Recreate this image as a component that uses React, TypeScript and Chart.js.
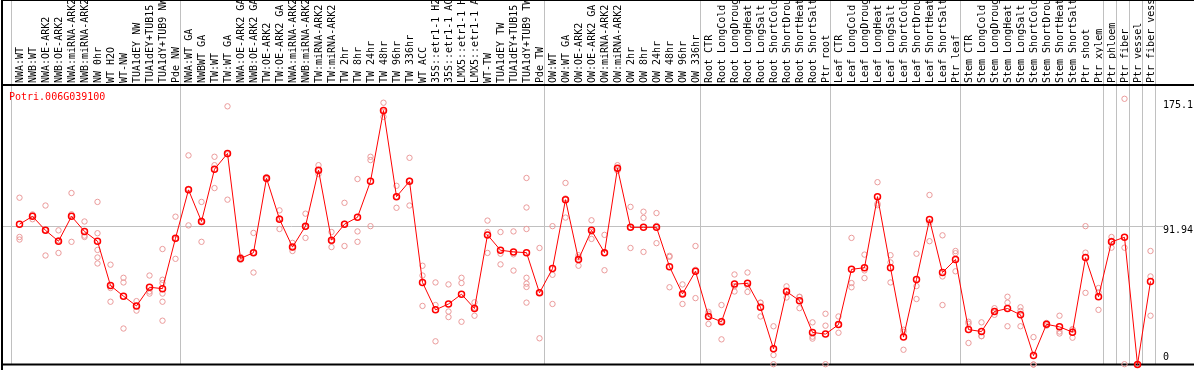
import { useEffect, useRef } from "react";
import { Chart, registerables } from "chart.js";

Chart.register(...registerables);

const geneId = "Potri.006G039100";

const categories = [
  "NWA:WT", "NWB:WT", "NWA:OE-ARK2", "NWB:OE-ARK2", "NWA:miRNA-ARK2", "NWB:miRNA-ARK2",
  "NW 0hr", "WT H2O", "WT-NW", "TUA1dEY NW", "TUA1dEY+TUB15 NW", "TUA1dY+TUB9 NW", "Pde NW",
  "NWA:WT GA", "NWBWT GA", "TW:WT", "TW:WT GA", "NWA:OE-ARK2 GA", "NWB:OE-ARK2 GA",
  "TW:OE-ARK2", "TW:OE-ARK2 GA", "NWA:miRNA-ARK2", "NWB:miRNA-ARK2", "TW:miRNA-ARK2",
  "TW:miRNA-ARK2", "TW 2hr", "TW 8hr", "TW 24hr", "TW 48hr", "TW 96hr", "TW 336hr",
  "WT ACC", "35S::etr1-1 H2O", "35S::etr1-1 ACC", "LMX5::etr1-1 H2O", "LMX5::etr1-1 ACC",
  "WT-TW", "TUA1dEY TW", "TUA1dEY+TUB15 TW", "TUA1dY+TUB9 TW", "Pde TW",
  "OW:WT", "OW:WT GA", "OW:OE-ARK2", "OW:OE-ARK2 GA", "OW:miRNA-ARK2", "OW:miRNA-ARK2",
  "OW 2hr", "OW 8hr", "OW 24hr", "OW 48hr", "OW 96hr", "OW 336hr",
  "Root CTR", "Root LongCold", "Root LongDrought", "Root LongHeat", "Root LongSalt",
  "Root ShortCold", "Root ShortDrought", "Root ShortHeat", "Root ShortSalt", "Ptr root",
  "Leaf CTR", "Leaf LongCold", "Leaf LongDrought", "Leaf LongHeat", "Leaf LongSalt",
  "Leaf ShortCold", "Leaf ShortDrought", "Leaf ShortHeat", "Leaf ShortSalt", "Ptr leaf",
  "Stem CTR", "Stem LongCold", "Stem LongDrought", "Stem LongHeat", "Stem LongSalt",
  "Stem ShortCold", "Stem ShortDrought", "Stem ShortHeat", "Stem ShortSalt", "Ptr shoot",
  "Ptr xylem", "Ptr phloem", "Ptr fiber", "Ptr vessel", "Ptr fiber vessel",
];

const means = [
  93.2, 98.4, 89.1, 81.9, 98.4, 88.4, 81.9, 52.4, 45.4, 38.9, 51.3, 50.4, 83.9,
  116.0, 95.0, 129.7, 140.2, 70.4, 74.3, 123.7, 96.5, 78.0, 91.9, 129.1, 82.6, 93.2,
  97.8, 121.7, 168.7, 111.5, 121.7, 54.5, 36.3, 40.2, 46.7, 37.2, 86.1, 75.9, 74.8,
  74.3, 47.6,
  63.7, 109.5, 69.8, 89.1, 74.3, 130.4, 91.1, 91.1, 91.1, 65.0, 46.9, 61.9,
  31.9, 28.4, 53.4, 53.9, 38.0, 10.4, 48.5, 42.4, 21.3, 20.2,
  26.5, 63.2, 64.3, 111.5, 64.3, 18.2, 56.5, 96.3, 61.1, 69.8,
  23.2, 21.9, 35.2, 37.2, 33.0, 5.9, 26.7, 25.0, 21.5, 71.0, 45.0,
  81.5, 84.5, 0, 55.2,
];

const replicates: number[][] = [
  [110.8, 84.7, 83.0], [99.7, 96.5, 98.9], [105.6, 72.4, 89.3], [89.1, 74.1, 82.5],
  [113.9, 81.5, 99.8], [95.0, 85.6, 84.7], [108.0, 87.2, 76.1, 71.1, 67.1],
  [66.3, 50.8, 41.7], [57.6, 54.5, 23.9], [42.1, 35.8, 38.9], [59.1, 47.1, 48.5],
  [76.7, 56.3, 54.1, 47.1, 41.7, 29.1], [98.2, 70.2, 83.3],
  [138.9, 92.4, 116.7], [108.0, 81.5, 95.5], [138.0, 132.4, 117.2], [171.5, 109.5, 139.6],
  [71.5, 69.5, 70.2], [87.4, 61.1, 74.4], [124.5, 123.0, 123.6], [102.4, 90.0, 97.1],
  [80.8, 75.4, 77.8], [100.2, 84.1, 91.4], [132.4, 126.5, 128.4], [88.0, 78.0, 81.8],
  [107.4, 78.7, 93.5], [123.2, 88.4, 81.5], [138.0, 135.8, 91.9], [173.9, 164.5, 167.7],
  [118.7, 104.1, 111.6], [137.3, 105.6, 122.2], [65.6, 59.1, 38.9], [54.5, 39.5, 15.4],
  [53.2, 35.2, 31.5], [57.6, 54.1, 28.4], [41.3, 32.4, 37.8], [95.6, 88.0, 74.1],
  [88.0, 73.6, 66.5], [88.4, 73.2, 62.4], [123.9, 104.3, 90.0, 57.6, 53.7, 51.5, 41.1],
  [77.4, 17.4, 48.0],
  [91.9, 59.6, 40.2], [120.6, 97.6, 110.3], [72.6, 65.6, 71.2], [95.8, 83.4, 88.1],
  [86.1, 62.6, 74.2], [132.4, 128.7, 130.1], [104.7, 77.4, 91.2], [101.5, 97.4, 74.8],
  [100.6, 80.6, 92.1], [71.5, 51.3, 72.2], [53.2, 40.2, 47.3], [78.7, 44.1, 62.9],
  [35.0, 26.9, 33.8], [39.5, 16.7, 29.0], [59.8, 48.5, 52.0], [61.1, 48.2, 52.4],
  [41.1, 31.9, 41.0], [25.4, 6.3, 0.2], [51.9, 44.5, 49.1], [45.0, 37.4, 44.8],
  [28.0, 18.5, 17.2], [33.7, 25.8, 0.2],
  [31.9, 21.1, 26.5], [84.1, 54.1, 51.3], [73.0, 57.4, 62.5], [121.1, 106.9, 105.8],
  [72.6, 67.8, 54.5], [21.7, 9.8, 23.1], [73.6, 52.1, 43.5], [112.6, 81.9, 94.4],
  [85.8, 58.5, 39.5], [75.4, 73.9, 61.9],
  [28.4, 27.1, 14.3], [28.0, 18.9, 18.8], [37.4, 33.0, 35.2], [45.0, 41.1, 25.4],
  [38.0, 25.4, 35.6], [18.2, 0, 0], [27.6, 25.8, 26.7], [32.4, 20.6, 21.9],
  [23.2, 17.8, 23.5], [91.9, 74.3, 47.6], [50.8, 36.3, 47.9],
  [84.7, 77.6, 82.2], [176.5, 77.6, 0.2], [0, 0, 0], [75.4, 58.5, 32.4],
];

const yTickValues = [0, 91.94, 175.1];
const yTickLabels = ["0", "91.94", "175.1"];
const gridValue = 91.94;
// index of the last category in each group (separators drawn after them)
const groupEnds = [12, 40, 52, 62, 72, 83, 84, 85, 86, 87];

const MONO = '"DejaVu Sans Mono", monospace';

export default function App() {
  const ref = useRef<HTMLCanvasElement>(null);

  useEffect(() => {
    document.body.style.margin = "0";
    const canvas = ref.current;
    if (!canvas) return;

    const repPoints = replicates.flatMap((reps, i) => reps.map((v) => ({ x: i, y: v })));

    const decor = {
      id: "decor",
      beforeDatasetsDraw(chart: any) {
        const { ctx, chartArea, scales } = chart;
        const xs = scales.x;
        const ys = scales.y;
        const W = chart.width;
        const H = chart.height;
        const step = xs.getPixelForValue(1) - xs.getPixelForValue(0);
        ctx.save();
        ctx.strokeStyle = "#c0c0c0";
        ctx.lineWidth = 1;
        const edges = [-1, ...groupEnds];
        for (const e of edges) {
          const px = Math.round(xs.getPixelForValue(e) + step / 2 - 2) + 0.5;
          ctx.beginPath();
          ctx.moveTo(px, 0);
          ctx.lineTo(px, chartArea.bottom);
          ctx.stroke();
        }
        const gy = Math.round(ys.getPixelForValue(gridValue)) + 0.5;
        ctx.beginPath();
        ctx.moveTo(1, gy);
        ctx.lineTo(chartArea.right + 6, gy);
        ctx.stroke();
        ctx.fillStyle = "#000";
        ctx.fillRect(1, 0, 2, H);
        ctx.fillRect(1, 0, W - 1, 1);
        ctx.fillRect(1, chartArea.top - 2, W - 1, 2);
        ctx.fillRect(1, chartArea.bottom - 1, W - 1, 2);
        ctx.restore();
      },
      afterDraw(chart: any) {
        const { ctx, chartArea, scales } = chart;
        const ys = scales.y;
        ctx.save();
        ctx.font = "10px " + MONO;
        ctx.textAlign = "left";
        ctx.textBaseline = "middle";
        ctx.fillStyle = "#ff0000";
        ctx.fillText(geneId, 9, chartArea.top + 11);
        ctx.fillStyle = "#000";
        yTickValues.forEach((v, i) => {
          const py = Math.min(ys.getPixelForValue(v) + 4.5, chartArea.bottom - 7);
          ctx.fillText(yTickLabels[i], chartArea.right + 6, py);
        });
        ctx.restore();
      },
    };

    const chart = new Chart(canvas, {
      type: "line",
      data: {
        labels: categories,
        datasets: [
          {
            label: "mean",
            data: means,
            borderColor: "#ff0000",
            borderWidth: 1,
            pointRadius: 3,
            pointBorderWidth: 1.5,
            pointBorderColor: "#ff0000",
            pointBackgroundColor: "rgba(0,0,0,0)",
            tension: 0,
            order: 0,
            clip: false,
          } as any,
          {
            label: "replicates",
            data: repPoints as any,
            parsing: false,
            showLine: false,
            pointRadius: 2.7,
            pointBorderWidth: 1,
            pointBorderColor: "#ea9a9a",
            pointBackgroundColor: "rgba(0,0,0,0)",
            order: 1,
            clip: false,
          } as any,
        ],
      },
      options: {
        animation: false,
        responsive: false,
        devicePixelRatio: 1,
        events: [],
        layout: { padding: { left: 13, right: 0, top: 0, bottom: 1 } },
        plugins: { legend: { display: false }, tooltip: { enabled: false } },
        scales: {
          x: {
            type: "category",
            position: "top",
            offset: true,
            grid: { display: false, drawTicks: false },
            border: { display: false },
            ticks: {
              autoSkip: false,
              minRotation: 90,
              maxRotation: 90,
              padding: 3,
              labelOffset: 13,
              color: "#000",
              font: { family: MONO, size: 10 },
            },
            afterFit: (s: any) => {
              s.height = 86;
            },
          },
          y: {
            position: "right",
            min: 0,
            max: 185,
            grid: { display: false },
            border: { display: false },
            ticks: { display: false },
            afterBuildTicks: (s: any) => {
              s.ticks = yTickValues.map((v) => ({ value: v }));
            },
            afterFit: (s: any) => {
              s.width = 37;
            },
          },
        },
      },
      plugins: [decor],
    });

    return () => chart.destroy();
  }, []);

  return (
    <div style={{ position: "fixed", left: 0, top: 0, width: 1194, height: 370, background: "#fff" }}>
      <canvas ref={ref} width={1194} height={370} style={{ display: "block" }} />
    </div>
  );
}
